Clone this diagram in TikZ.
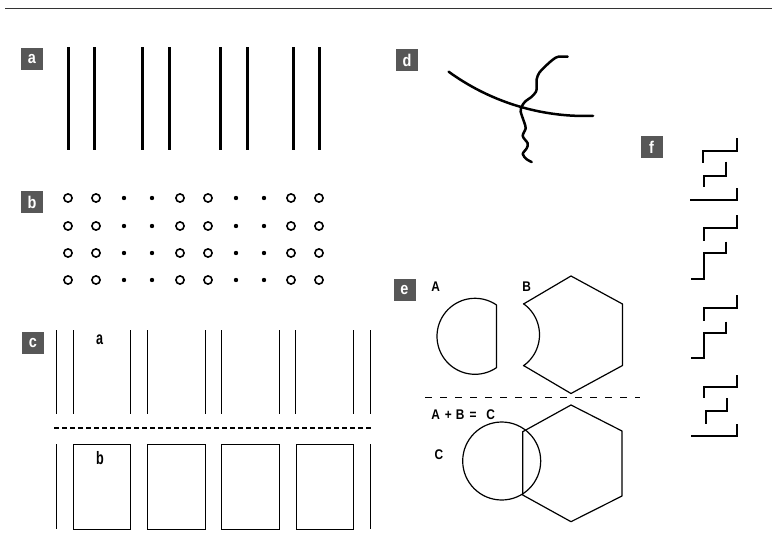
\documentclass[tikz,border=0pt]{standalone}
\usepackage{fontspec}
\setmainfont{Liberation Sans}
\newfontfamily\condA{Liberation Sans}[FakeStretch=0.85]
\newfontfamily\condB{Liberation Sans}[FakeStretch=0.7]
\begin{document}
\begin{tikzpicture}[x=1pt,y=-1pt,
  tag/.style={fill=black!66,minimum width=22pt,minimum height=22pt,inner sep=0pt,text=white,font=\condA\fontsize{17}{17}\selectfont\bfseries},
  lbl/.style={inner sep=0pt,anchor=base west,font=\condA\fontsize{14}{14}\selectfont\bfseries},
  sublbl/.style={inner sep=0pt,anchor=base west,font=\condB\fontsize{18}{18}\selectfont\bfseries},
  bar/.style={line width=3pt},
  fine/.style={line width=1pt},
  curve/.style={line width=2.5pt,line cap=round,line join=round},
  outline/.style={line width=1.2pt,line join=round},
  stair/.style={line width=1.7pt},
  dashC/.style={line width=1.6pt,dash pattern=on 5pt off 3pt},
  dashE/.style={line width=1pt,dash pattern=on 7pt off 8pt},
]
\useasboundingbox (0,0) rectangle (772,544);
\fill[white] (0,0) rectangle (772,544);
% top rule
\draw[line width=1.5pt,black!80] (5,8.5) -- (772,8.5);

% tags
\node[tag] (ta) at (32,59) {a};
\node[tag] (tb) at (32,202) {b};
\node[tag] (tc) at (33,343) {c};
\node[tag] (td) at (407,60) {d};
\node[tag] (te) at (404.5,290) {e};
\node[tag] (tf) at (651.5,147) {f};

% panel a
\foreach \x in {68,94,142,169,220,247,293,319} \draw[bar] (\x,47) -- (\x,150);

% panel b
\foreach \y in {198,226,253,280} {
  \foreach \x in {68,96,180,208,291,319} \draw[line width=1.6pt] (\x,\y) circle[radius=4.1];
  \foreach \x in {124,152,236,264} \fill (\x,\y) circle[radius=2.2];
}

% panel c
\foreach \x in {56,73,130,147,205,221,279,295,353,370} \draw[fine] (\x,330) -- (\x,414);
\draw[dashC] (54,428) -- (371,428);
\draw[fine] (56,444) -- (56,529);
\draw[fine] (370,444) -- (370,529);
\foreach \x/\w in {73/130,147/205,221/279,296/353} \draw[fine] (\x,444) rectangle (\w,529);
\node[sublbl] (ca) at (96,344.3) {a};
\node[sublbl] (cb) at (96,464) {b};

% panel d
\draw[curve] plot[domain=126:88,samples=40] ({585+232*cos(\x)},{-116+232*sin(\x)});
\draw[curve] plot[smooth] coordinates {(567.7,56.7) (558.3,56.7) (553.3,59.3) (546.7,65) (539.3,72.7) (536.7,79.3) (536.7,86.7) (536,91.7) (531.7,96.7) (525,101.7) (521.7,106.7) (520.7,111.7) (524,121.7) (525.7,128.3) (522.7,136) (527.7,143.3) (526.7,148.3) (522.7,154) (526.7,159.3) (531.7,162)};

% panel e
\node[lbl] (eA) at (431.2,291.7) {A};
\node[lbl] (eB) at (522.2,291.7) {B};
\node[lbl] (eS) at (431.2,419.3) {A\hspace{5pt}+\hspace{4pt}B\hspace{5pt}=\hspace{10pt}C};
\node[lbl] (eC) at (434.5,459) {C};
\draw[outline] plot[domain=-55.6:-304.4,samples=60] ({475+38*cos(\x)},{336.3+38*sin(\x)}) -- cycle;
\draw[outline] (523.5,304) -- (571,276) -- (622.5,304) -- (622.5,365.5) -- (571,393.5) -- (523.5,365.5)
   -- plot[domain=54.6:-54.6,samples=40] ({501.5+38*cos(\x)},{334.75+38*sin(\x)}) -- cycle;
\draw[dashE] (425,397.3) -- (640,397.3);
\draw[outline] (522.7,431.7) -- (571,405) -- (622,431) -- (622,496) -- (571,521.7) -- (522.7,495) -- cycle;
\draw[outline] (501.7,461) circle[radius=39];

% panel f
\draw[stair] (737.3,138.3) -- (737.3,150.7) -- (703.3,150.7) -- (703.3,162.7);
\draw[stair] (725.7,161.7) -- (725.7,176) -- (704,176) -- (704,187.3);
\draw[stair] (737.3,188.3) -- (737.3,200) -- (690,200);
\draw[stair] (737.3,215) -- (737.3,228.3) -- (704,228.3) -- (704,240.7);
\draw[stair] (725.7,241.7) -- (725.7,253.3) -- (704,253.3) -- (704,279.3) -- (691,279.3);
\draw[stair] (737.3,295) -- (737.3,308.3) -- (704,308.3) -- (704,320.7);
\draw[stair] (725.7,321.7) -- (725.7,333.3) -- (704,333.3) -- (704,358.3) -- (691,358.3);
\draw[stair] (737.3,375) -- (737.3,386.7) -- (704,386.7) -- (704,398.3);
\draw[stair] (727,398.3) -- (727,410.7) -- (706,410.7) -- (706,424);
\draw[stair] (737.3,424) -- (737.3,436) -- (691,436);
\end{tikzpicture}
\end{document}
